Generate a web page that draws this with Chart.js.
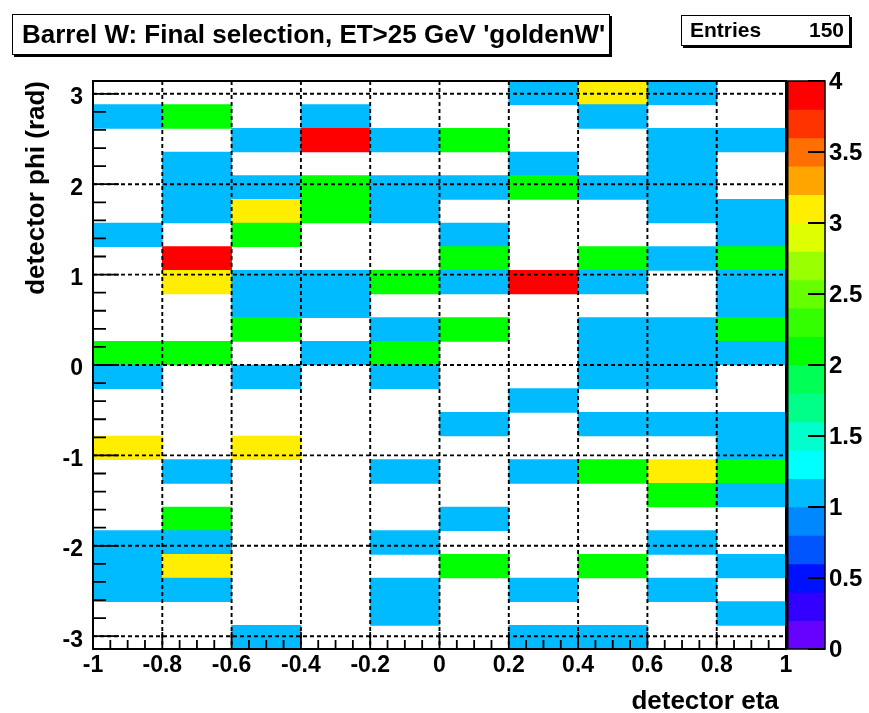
<!DOCTYPE html>
<html>
<head>
<meta charset="utf-8">
<script src="https://cdn.jsdelivr.net/npm/chart.js@4/dist/chart.umd.min.js"></script>
<style>
  html, body { margin: 0; padding: 0; background: #fff; }
  #stage { position: relative; width: 869px; height: 713px; overflow: hidden;
           font-family: "Liberation Sans", Arial, Helvetica, sans-serif; }
  #main { position: absolute; left: 0; top: 0; }
  #zbar { position: absolute; left: 787px; top: 0; }
  .pave { position: absolute; box-sizing: border-box; border: 1.5px solid #000;
          box-shadow: 2px 2px 0 #000; background: #fff; color: #000;
          font-weight: bold; white-space: nowrap; }
  #title { left: 12px; top: 14px; width: 598px; height: 41px;
           font-size: 26px; line-height: 38px; padding-left: 9px; }
  #stats { left: 681px; top: 15px; width: 169px; height: 31px;
           font-size: 21px; line-height: 28px; }
  #stats .k { position: absolute; left: 8px; }
  #stats .v { position: absolute; right: 5px; }
</style>
</head>
<body>
<div id="stage">
  <canvas id="main" width="869" height="713"></canvas>
  <canvas id="zbar" width="82" height="713"></canvas>
  <div class="pave" id="title">Barrel W: Final selection, ET&gt;25 GeV 'goldenW'</div>
  <div class="pave" id="stats"><span class="k">Entries</span><span class="v" id="entries"></span></div>
</div>
<script>
// ---- histogram definition ----
const etaEdges = [-1.0, -0.8, -0.6, -0.4, -0.2, 0.0, 0.2, 0.4, 0.6, 0.8, 1.0];
const phiBinCount = 24;
const phiMin = -Math.PI;
const phiMax = Math.PI;

// Counts per (phi bin, eta bin). First row = highest phi bin (just below +pi),
// last row = lowest phi bin (just above -pi). Columns follow etaEdges.
const countsTopDown = [
  [0, 0, 0, 0, 0, 0, 1, 3, 1, 0],
  [1, 2, 0, 1, 0, 0, 0, 1, 0, 0],
  [0, 0, 1, 4, 1, 2, 0, 0, 1, 1],
  [0, 1, 0, 0, 0, 0, 1, 0, 1, 0],
  [0, 1, 1, 2, 1, 1, 2, 1, 1, 0],
  [0, 1, 3, 2, 1, 0, 0, 0, 1, 1],
  [1, 0, 2, 0, 0, 1, 0, 0, 0, 1],
  [0, 4, 0, 0, 0, 2, 0, 2, 1, 2],
  [0, 3, 1, 1, 2, 1, 4, 1, 0, 1],
  [0, 0, 1, 1, 0, 0, 0, 0, 0, 1],
  [0, 0, 2, 0, 1, 2, 0, 1, 1, 2],
  [2, 2, 0, 1, 2, 0, 0, 1, 1, 1],
  [1, 0, 1, 0, 1, 0, 0, 1, 1, 0],
  [0, 0, 0, 0, 0, 0, 1, 0, 0, 0],
  [0, 0, 0, 0, 0, 1, 0, 1, 1, 1],
  [3, 0, 3, 0, 0, 0, 0, 0, 0, 1],
  [0, 1, 0, 0, 1, 0, 1, 2, 3, 2],
  [0, 0, 0, 0, 0, 0, 0, 0, 2, 1],
  [0, 2, 0, 0, 0, 1, 0, 0, 0, 0],
  [1, 1, 0, 0, 1, 0, 0, 0, 1, 0],
  [1, 3, 0, 0, 0, 2, 0, 2, 0, 1],
  [1, 1, 0, 0, 1, 0, 1, 0, 1, 0],
  [0, 0, 0, 0, 1, 0, 0, 0, 0, 1],
  [0, 0, 1, 0, 0, 0, 1, 1, 0, 0]
];

// ---- axes ----
const etaTicks = [-1, -0.8, -0.6, -0.4, -0.2, 0, 0.2, 0.4, 0.6, 0.8, 1];
const etaMinorDivisions = 4;
const phiTicks = [-3, -2, -1, 0, 1, 2, 3];
const phiMinorDivisions = 5;
const zMin = 0;
const zMax = 4;
const zTicks = [0, 0.5, 1, 1.5, 2, 2.5, 3, 3.5, 4];

// 20 contour bands from zMin to zMax (violet -> red)
const paletteBands = [
  '#6600ff', '#3300ff', '#0011ff', '#0055ff', '#0088ff',
  '#00bbff', '#00ffff', '#00ffcc', '#00ff88', '#00ff55',
  '#00ff00', '#33ff00', '#66ff00', '#99ff00', '#ddff00',
  '#ffee00', '#ffa500', '#ff7000', '#ff3300', '#ff0000'
];

const FONT = "'Liberation Sans', Arial, Helvetica, sans-serif";

function colorFor(n) {
  const k = Math.floor((n - zMin) * paletteBands.length / (zMax - zMin));
  return paletteBands[Math.max(0, Math.min(paletteBands.length - 1, k))];
}

// ---- build cells as floating bars ----
const phiWidth = (phiMax - phiMin) / phiBinCount;
const cells = [];
let entries = 0;
countsTopDown.forEach((row, r) => {
  const bin = phiBinCount - 1 - r;
  const lo = phiMin + bin * phiWidth;
  const hi = lo + phiWidth;
  row.forEach((n, c) => {
    entries += n;
    if (n > 0) cells.push({ x: (etaEdges[c] + etaEdges[c + 1]) / 2, y: [lo, hi], n });
  });
});
document.getElementById('entries').textContent = String(entries);

function fixedTicks(list) {
  return scale => { scale.ticks = list.map(v => ({ value: v })); };
}

// Dashed grid, inward ticks and frame drawn on top of the cells
const frameAndGrid = {
  id: 'frameAndGrid',
  afterDatasetsDraw(chart) {
    const { ctx, chartArea: a, scales: { x, y } } = chart;
    ctx.save();
    ctx.strokeStyle = '#000';

    ctx.lineWidth = 1.9;
    ctx.setLineDash([4, 3]);
    ctx.beginPath();
    etaTicks.forEach(v => {
      const px = x.getPixelForValue(v);
      ctx.moveTo(px, a.top); ctx.lineTo(px, a.bottom);
    });
    phiTicks.forEach(v => {
      const py = y.getPixelForValue(v);
      ctx.moveTo(a.left, py); ctx.lineTo(a.right, py);
    });
    ctx.stroke();
    ctx.setLineDash([]);

    ctx.lineWidth = 1.8;
    ctx.beginPath();
    for (let i = 0; i < etaTicks.length; i++) {
      const px = x.getPixelForValue(etaTicks[i]);
      ctx.moveTo(px, a.bottom); ctx.lineTo(px, a.bottom - 17);
      if (i < etaTicks.length - 1) {
        const step = (etaTicks[i + 1] - etaTicks[i]) / etaMinorDivisions;
        for (let k = 1; k < etaMinorDivisions; k++) {
          const mx = x.getPixelForValue(etaTicks[i] + k * step);
          ctx.moveTo(mx, a.bottom); ctx.lineTo(mx, a.bottom - 9);
        }
      }
    }
    for (let i = 0; i < phiTicks.length; i++) {
      const py = y.getPixelForValue(phiTicks[i]);
      ctx.moveTo(a.left, py); ctx.lineTo(a.left + 26, py);
      if (i < phiTicks.length - 1) {
        const step = (phiTicks[i + 1] - phiTicks[i]) / phiMinorDivisions;
        for (let k = 1; k < phiMinorDivisions; k++) {
          const my = y.getPixelForValue(phiTicks[i] + k * step);
          ctx.moveTo(a.left, my); ctx.lineTo(a.left + 13, my);
        }
      }
    }
    ctx.stroke();

    ctx.lineWidth = 2;
    ctx.strokeRect(a.left, a.top, a.right - a.left, a.bottom - a.top);
    ctx.restore();
  }
};

const tickFont = { family: FONT, size: 23, weight: 'bold' };
const titleFont = { family: FONT, size: 26, weight: 'bold', lineHeight: 0.85 };

new Chart(document.getElementById('main'), {
  type: 'bar',
  data: {
    datasets: [{
      data: cells,
      backgroundColor: ctx => (ctx.raw ? colorFor(ctx.raw.n) : '#000'),
      borderWidth: 0,
      barPercentage: 1,
      categoryPercentage: 1
    }]
  },
  options: {
    responsive: false,
    animation: false,
    devicePixelRatio: 1,
    events: [],
    layout: { padding: { top: 81, right: 83, left: 0, bottom: 0 } },
    plugins: { legend: { display: false }, tooltip: { enabled: false } },
    scales: {
      x: {
        type: 'linear', min: -1, max: 1, offset: false,
        afterFit: s => { s.height = 64; },
        afterBuildTicks: fixedTicks(etaTicks),
        grid: { display: false, drawTicks: false, offset: false },
        border: { display: false },
        ticks: { font: tickFont, color: '#000', padding: 3, maxRotation: 0, minRotation: 0,
                 autoSkip: false, callback: v => String(v) },
        title: { display: true, text: 'detector eta\u00a0', align: 'end', color: '#000',
                 font: titleFont, padding: { top: 0, bottom: 0 } }
      },
      y: {
        type: 'linear', min: phiMin, max: phiMax,
        afterFit: s => { s.width = 93; },
        afterBuildTicks: fixedTicks(phiTicks),
        grid: { display: false, drawTicks: false },
        border: { display: false },
        ticks: { font: tickFont, color: '#000', padding: 10, labelOffset: 4,
                 autoSkip: false, callback: v => String(v) },
        title: { display: true, text: 'detector phi (rad)', align: 'end', color: '#000',
                 font: titleFont, padding: { top: 26, bottom: 0 } }
      }
    }
  },
  plugins: [frameAndGrid]
});

// ---- colour scale ----
const zBandWidth = (zMax - zMin) / paletteBands.length;
const zBands = paletteBands.map((c, i) => ({ x: 'z', y: [zMin + i * zBandWidth, zMin + (i + 1) * zBandWidth] }));

const zFrame = {
  id: 'zFrame',
  afterDatasetsDraw(chart) {
    const { ctx, chartArea: a, scales: { y } } = chart;
    ctx.save();
    ctx.strokeStyle = '#000';
    ctx.lineWidth = 1.8;
    ctx.beginPath();
    zTicks.forEach(v => {
      const py = y.getPixelForValue(v);
      ctx.moveTo(a.right, py); ctx.lineTo(a.right - 17, py);
    });
    ctx.stroke();
    ctx.lineWidth = 1.5;
    ctx.strokeRect(a.left + 0.75, a.top, a.right - a.left - 0.75, a.bottom - a.top);
    ctx.restore();
  }
};

new Chart(document.getElementById('zbar'), {
  type: 'bar',
  data: {
    labels: ['z'],
    datasets: [{
      data: zBands,
      backgroundColor: paletteBands,
      borderWidth: 0,
      barPercentage: 1,
      categoryPercentage: 1
    }]
  },
  options: {
    responsive: false,
    animation: false,
    devicePixelRatio: 1,
    events: [],
    layout: { padding: { top: 81, right: 0, left: 0, bottom: 64 } },
    plugins: { legend: { display: false }, tooltip: { enabled: false } },
    scales: {
      x: { display: false },
      y: {
        position: 'right', min: zMin, max: zMax,
        afterFit: s => { s.width = 44; },
        afterBuildTicks: fixedTicks(zTicks),
        grid: { display: false, drawTicks: false },
        border: { display: false },
        ticks: { font: { family: FONT, size: 24, weight: 'bold' }, color: '#000', padding: 4,
                 labelOffset: 1, autoSkip: false, callback: v => String(v) }
      }
    }
  },
  plugins: [zFrame]
});
</script>
</body>
</html>
